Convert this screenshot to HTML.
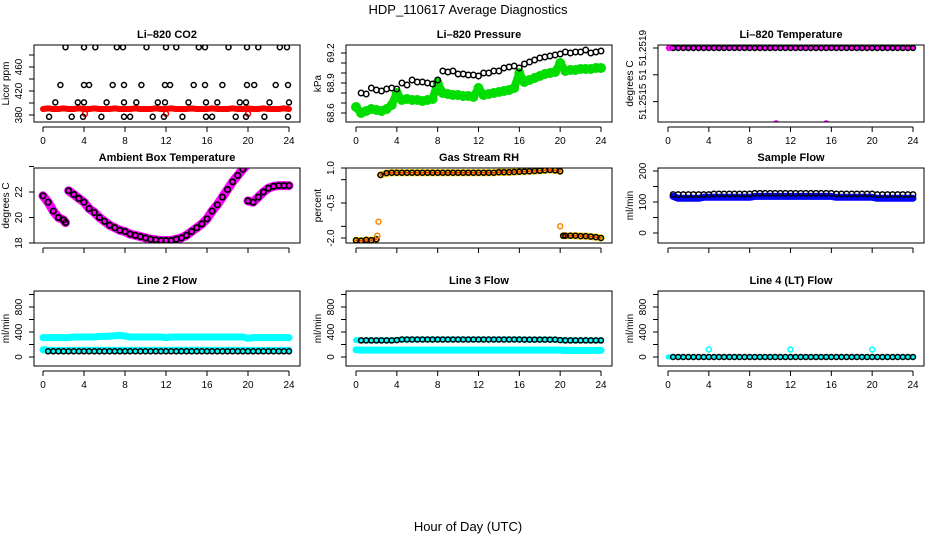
<!DOCTYPE html>
<html><head><meta charset="utf-8"><style>
html,body{margin:0;padding:0;background:#fff;}
svg{display:block;font-family:"Liberation Sans",sans-serif;}
</style></head><body>
<svg id="chart" width="936" height="540" viewBox="0 0 936 540" xmlns="http://www.w3.org/2000/svg">
<text x="468" y="14" text-anchor="middle" font-size="13">HDP_110617  Average Diagnostics</text>
<text x="468" y="531" text-anchor="middle" font-size="13">Hour of Day (UTC)</text>
</svg>
<script>
const H = [0.5,1,1.5,2,2.5,3,3.5,4,4.5,5,5.5,6,6.5,7,7.5,8,8.5,9,9.5,10,10.5,11,11.5,12,12.5,13,13.5,14,14.5,15,15.5,16,16.5,17,17.5,18,18.5,19,19.5,20,20.5,21,21.5,22,22.5,23,23.5,24];
const xTicks = [0,4,8,12,16,20,24];
// CO2
const co2Hours493 = [2.2,4,5.1,7.2,7.8,10.1,12,13,15.2,15.8,18.1,19.9,21,23.1,23.8];
const co2Hours430 = [1.7,4,4.5,6.8,7.9,9.6,11.9,12.4,14.7,15.8,17.5,19.9,20.6,22.7,23.9];
const co2Hours401 = [1.2,3.4,4,6.2,7.9,9.1,11.2,11.9,14.2,15.9,17,19.2,19.8,22.1,24];
const co2Hours377 = [0.6,2.8,3.9,5.7,7.9,8.5,10.7,11.8,13.6,15.9,16.5,18.8,19.8,21.6,23.9];
const co2Levels = [493,430,401,377];
const co2Red = [391,390,390,391,390,390,391,390,390,391,390,390,390,391,390,390,390,391,390,390,390,391,390,390,391,390,390,390,391,390,390,390,391,390,390,390,391,390,390,391,390,390,391,390,390,390,391,390];
const co2RedLowHours = [4.1,12,20];
const co2RedLowVals = [382,382,382];
// Pressure
const presBlack = [68.8,68.79,68.85,68.83,68.82,68.84,68.85,68.84,68.9,68.88,68.93,68.91,68.91,68.9,68.89,68.93,69.02,69.01,69.02,68.99,68.99,68.98,68.98,68.97,69.0,69.0,69.02,69.02,69.05,69.06,69.07,69.05,69.09,69.11,69.13,69.15,69.16,69.17,69.18,69.19,69.21,69.2,69.21,69.21,69.23,69.2,69.21,69.22];
const presGreen = [68.6,68.62,68.64,68.63,68.62,68.64,68.68,68.8,68.73,68.74,68.73,68.73,68.72,68.73,68.74,68.9,68.8,68.79,68.78,68.78,68.77,68.77,68.76,68.85,68.78,68.79,68.8,68.81,68.82,68.83,68.85,69.0,68.91,68.93,68.95,68.97,68.99,69.0,69.01,69.1,69.02,69.03,69.03,69.04,69.04,69.04,69.05,69.05];
// Li-820 temperature
const tempBlack = [51.2519,51.2519,51.2519,51.2519,51.2519,51.2519,51.2519,51.2519,51.2519,51.2519,51.2519,51.2519,51.2519,51.2519,51.2519,51.2519,51.2519,51.2519,51.2519,51.2519,51.2519,51.2519,51.2519,51.2519,51.2519,51.2519,51.2519,51.2519,51.2519,51.2519,51.2519,51.2519,51.2519,51.2519,51.2519,51.2519,51.2519,51.2519,51.2519,51.2519,51.2519,51.2519,51.2519,51.2519,51.2519,51.2519,51.2519,51.2519];
const tempOutHours = [0.1,10.6,15.5];
const tempOutVals = [51.2519,51.25145,51.25145];
// Ambient box temperature (null = gap)
const ambHours = [0,0.5,1,1.5,2,2.2,null,2.5,3,3.5,4,4.5,5,5.5,6,6.5,7,7.5,8,8.5,9,9.5,10,10.5,11,11.5,12,12.5,13,13.5,14,14.5,15,15.5,16,16.5,17,17.5,18,18.5,19,19.5,20,null,20,20.5,21,21.5,22,22.5,23,23.5,24];
const ambVals = [21.7,21.2,20.5,20.0,19.8,19.6,null,22.1,21.8,21.5,21.2,20.7,20.4,20.0,19.7,19.4,19.2,19.0,18.9,18.7,18.6,18.5,18.4,18.3,18.25,18.2,18.2,18.2,18.3,18.4,18.6,18.9,19.2,19.5,19.9,20.5,21.0,21.6,22.2,22.8,23.3,23.8,24.2,null,21.3,21.2,21.6,22.0,22.3,22.45,22.5,22.5,22.5];
// Gas stream RH
const rhHours = [0,0.5,1,1.5,2,null,2.4,3,3.5,4,4.5,5,5.5,6,6.5,7,7.5,8,8.5,9,9.5,10,10.5,11,11.5,12,12.5,13,13.5,14,14.5,15,15.5,16,16.5,17,17.5,18,18.5,19,19.5,20,null,20.3,20.5,21,21.5,22,22.5,23,23.5,24];
const rhVals = [-2.1,-2.12,-2.08,-2.1,-2.05,null,0.7,0.78,0.8,0.8,0.8,0.8,0.8,0.8,0.8,0.8,0.8,0.8,0.8,0.8,0.8,0.8,0.8,0.8,0.8,0.8,0.8,0.8,0.8,0.82,0.82,0.82,0.83,0.84,0.85,0.86,0.87,0.88,0.9,0.92,0.9,0.86,null,-1.9,-1.9,-1.9,-1.9,-1.92,-1.92,-1.94,-1.96,-2.0];
const rhOutHours = [2.2,2.1,20.0];
const rhOutVals = [-1.3,-1.9,-1.5];
// Sample flow
const sampBlue = [118,112,112,112,112,112,115,115,115,115,115,115,115,115,115,115,118,118,118,118,118,118,118,118,118,118,118,118,118,118,118,118,115,115,115,115,115,115,115,115,112,112,112,112,112,112,112,112];
const sampBlack = [124,124,124,124,124,124,124,124,126,126,126,126,126,126,126,126,128,128,128,128,128,128,128,128,128,128,128,128,128,128,128,128,126,126,126,126,126,126,126,126,124,124,124,124,124,124,124,124];
// Line 2 flow
const l2CyanHigh = [310,310,310,310,310,320,320,320,320,320,330,330,335,340,345,335,320,320,320,320,320,320,320,310,320,320,320,320,320,320,320,320,320,320,320,320,320,320,320,300,310,310,310,310,310,310,310,310];
const l2CyanLow = [110,105,105,105,105,108,108,108,108,108,108,108,108,108,108,108,108,108,108,108,108,108,108,108,108,108,108,108,108,108,108,108,108,108,108,108,108,108,108,108,105,105,105,105,105,105,105,105];
const l2Black = [92,92,92,92,92,92,92,92,92,92,92,92,92,92,92,92,92,92,92,92,92,92,92,92,92,92,92,92,92,92,92,92,92,92,92,92,92,92,92,92,92,92,92,92,92,92,92,92];
// Line 3 flow
const l3Black = [265,265,265,265,265,265,265,270,280,280,280,280,280,280,280,280,280,280,280,280,280,280,280,280,280,280,280,280,280,280,280,280,278,278,278,278,278,278,278,270,265,265,265,265,265,265,265,265];
const l3CyanLow = [110,110,110,110,110,110,110,110,110,110,110,110,110,110,110,110,110,110,110,110,110,110,110,110,110,110,110,110,110,110,110,110,110,110,110,110,110,110,110,110,105,105,105,105,105,105,105,105];
// Line 4 flow
const l4Black = [0,0,0,0,0,0,0,0,0,0,0,0,0,0,0,0,0,0,0,0,0,0,0,0,0,0,0,0,0,0,0,0,0,0,0,0,0,0,0,0,0,0,0,0,0,0,0,0];
const l4OutHours = [4,12,20];
const l4OutVals = [120,120,120];

const NS='http://www.w3.org/2000/svg';
const svg=document.getElementById('chart');
const COLS=[{b0:34,b1:300,x0:43,x24:289},{b0:346,b1:612,x0:356,x24:601},{b0:658,b1:924,x0:668,x24:913}];
const ROWS=[{t:45,b:122,lab:true,ty:38},{t:168,b:243,lab:false,ty:161},{t:291,b:366,lab:true,ty:284}];
function mk(tag,attrs,parent){const e=document.createElementNS(NS,tag);for(const k in attrs)e.setAttribute(k,attrs[k]);(parent||svg).appendChild(e);return e;}

function panel(name,c,r,title,ylab,v0,p0,v1,p1,ticks,labels){
  const C=COLS[c],R=ROWS[r];
  const g=mk('g',{});
  
  
  const xs=h=>C.x0+(C.x24-C.x0)*h/24;
  const ys=v=>p0+(p1-p0)*(v-v0)/(v1-v0);
  const clipId='clip-'+name;
  const cp=mk('clipPath',{id:clipId},g);
  mk('rect',{x:C.b0,y:R.t,width:C.b1-C.b0,height:R.b-R.t},cp);
  const plot=mk('g',{'clip-path':'url(#'+clipId+')'},g);
  
  
  const t=mk('text',{x:(C.b0+C.b1)/2,y:R.ty,'text-anchor':'middle','font-size':'11','font-weight':'bold'},g);
  t.textContent=title;
  
  
  const box=mk('rect',{x:C.b0,y:R.t,width:C.b1-C.b0,height:R.b-R.t,fill:'none',stroke:'#000','stroke-width':1},g);
  
  
  const ay=R.b+5;
  const xa=mk('g',{},g);
  
  
  mk('line',{x1:xs(0),x2:xs(24),y1:ay,y2:ay,stroke:'#000'},xa);
  xTicks.forEach(h=>{
    mk('line',{x1:xs(h),x2:xs(h),y1:ay,y2:ay+5,stroke:'#000'},xa);
    if(R.lab){const tt=mk('text',{x:xs(h),y:ay+17,'text-anchor':'middle','font-size':'10'},xa);tt.textContent=h;
      
      }
  });
  const ya=mk('g',{},g);
  
  
  ticks.forEach((v,i)=>{
    const y=ys(v);
    mk('line',{x1:C.b0-5,x2:C.b0,y1:y,y2:y,stroke:'#000'},ya);
    if(labels[i]){const tx=C.b0-12;const tt=mk('text',{x:tx,y:y,'text-anchor':'middle','font-size':'10',transform:'rotate(-90 '+tx+' '+y+')'},ya);tt.textContent=labels[i];
      
      }
  });
  const lx=C.b0-25,ly=(R.t+R.b)/2;
  const yl=mk('text',{x:lx,y:ly,'text-anchor':'middle','font-size':'10',transform:'rotate(-90 '+lx+' '+ly+')'},g);
  yl.textContent=ylab;
  
  
  return {plot,xs,ys};
}
function band(P,hours,vals,color,w,name){
  let d='',pen=false;
  hours.forEach((h,i)=>{const v=vals[i];if(h===null||v===null){pen=false;return;}
    d+=(pen?'L':'M')+P.xs(h).toFixed(1)+' '+P.ys(v).toFixed(1)+' ';pen=true;});
  const p=mk('path',{d:d,fill:'none',stroke:color,'stroke-width':w,'stroke-linecap':'round','stroke-linejoin':'round'},P.plot);
  
  
}
function pts(P,hours,vals,color,r,sw,name,fill){
  const g=mk('g',{},P.plot);
  
  
  hours.forEach((h,i)=>{const v=vals[i];if(h===null||v===null)return;
    const c=mk('circle',{cx:P.xs(h).toFixed(1),cy:P.ys(v).toFixed(1),r:r,fill:fill||'none',stroke:color,'stroke-width':sw},g);
    
    });
}
const H2=[0].concat(H);

let P=panel('co2',0,0,'Li\u2013820 CO2','Licor ppm',380,115,460,67,[380,400,420,440,460,480],['380','','420','','460','']);
band(P,H2,[390].concat(co2Red),'#ff0000',6,'co2-red-series');
pts(P,co2RedLowHours,co2RedLowVals,'#ff0000',2.5,1.5,'co2-red-low-points');
[co2Hours493,co2Hours430,co2Hours401,co2Hours377].forEach((hs,k)=>pts(P,hs,hs.map(()=>co2Levels[k]),'#000',2.5,1.5,'co2-black-points'));

P=panel('pressure',1,0,'Li\u2013820 Pressure','kPa',68.6,113,69.2,53,[68.6,68.7,68.8,68.9,69.0,69.1,69.2],['68.6','','','68.9','','','69.2']);
band(P,H2,[68.66].concat(presGreen),'#00dd00',8,'pressure-green-band');
pts(P,H2,[68.66].concat(presGreen),'#00dd00',4.5,1,'pressure-green-series','#00dd00');
pts(P,H,presBlack,'#000',2.7,1.5,'pressure-black-points');

P=panel('li820-temp',2,0,'Li\u2013820 Temperature','degrees C',51.2515,115,51.2519,48,[51.25158,51.25174,51.2519],['51.2515','51','51.2519']);
band(P,H2,[51.2519].concat(tempBlack),'#ff00ff',4,'temp-magenta-series');
pts(P,H,tempBlack,'#000',2.5,1.5,'temp-black-points');
pts(P,tempOutHours,tempOutVals,'#ff00ff',2.5,1.5,'temp-magenta-outliers');

P=panel('ambient',0,1,'Ambient Box Temperature','degrees C',18,243,22,192,[18,20,22,24],['18','20','22','']);
band(P,ambHours,ambVals,'#ff00ff',9,'ambient-magenta-series');
pts(P,ambHours,ambVals,'#000',2.7,1.8,'ambient-black-points');

P=panel('rh',1,1,'Gas Stream RH','percent',-2,238,1,168,[-2,-1.5,-0.5,0.5,1],['-2.0','','-0.5','','1.0']);
band(P,rhHours,rhVals,'#ffd000',7,'rh-yellow-series');
band(P,rhHours,rhVals,'#ff3000',1.5,'rh-red-series');
pts(P,rhHours,rhVals,'#000',2.5,1.5,'rh-black-points');
pts(P,rhOutHours,rhOutVals,'#ff8800',2.5,1.5,'rh-outliers');

P=panel('sample-flow',2,1,'Sample Flow','ml/min',0,233,200,171,[0,50,100,150,200],['0','','100','','200']);
band(P,H,sampBlue,'#0000ff',7,'sample-flow-blue-series');
pts(P,H,sampBlack,'#000',2.7,1.5,'sample-flow-black-points');

const flowTicks=[0,200,400,600,800,1000],flowLabels=['0','','400','','800',''];
P=panel('line2-flow',0,2,'Line 2 Flow','ml/min',0,357,800,307,flowTicks,flowLabels);
band(P,H2,[310].concat(l2CyanHigh),'#00ffff',7,'line2-cyan-high');
band(P,H2,[115].concat(l2CyanLow),'#00ffff',7,'line2-cyan-low');
pts(P,H,l2Black,'#000',2.5,1.5,'line2-black-points');

P=panel('line3-flow',1,2,'Line 3 Flow','ml/min',0,357,800,307,flowTicks,flowLabels);
band(P,H2,[115].concat(l3CyanLow),'#00ffff',7,'line3-cyan-low');
band(P,H2,[270].concat(l3Black),'#00ffff',6,'line3-cyan-high');
pts(P,H,l3Black,'#000',2.5,1.5,'line3-black-points');

P=panel('line4-flow',2,2,'Line 4 (LT) Flow','ml/min',0,357,800,307,flowTicks,flowLabels);
band(P,H2,[0].concat(l4Black),'#00ffff',5,'line4-cyan-series');
pts(P,H,l4Black,'#000',2.5,1.5,'line4-black-points');
pts(P,l4OutHours,l4OutVals,'#00ffff',2.5,1.5,'line4-cyan-outliers');
</script>
</body></html>
